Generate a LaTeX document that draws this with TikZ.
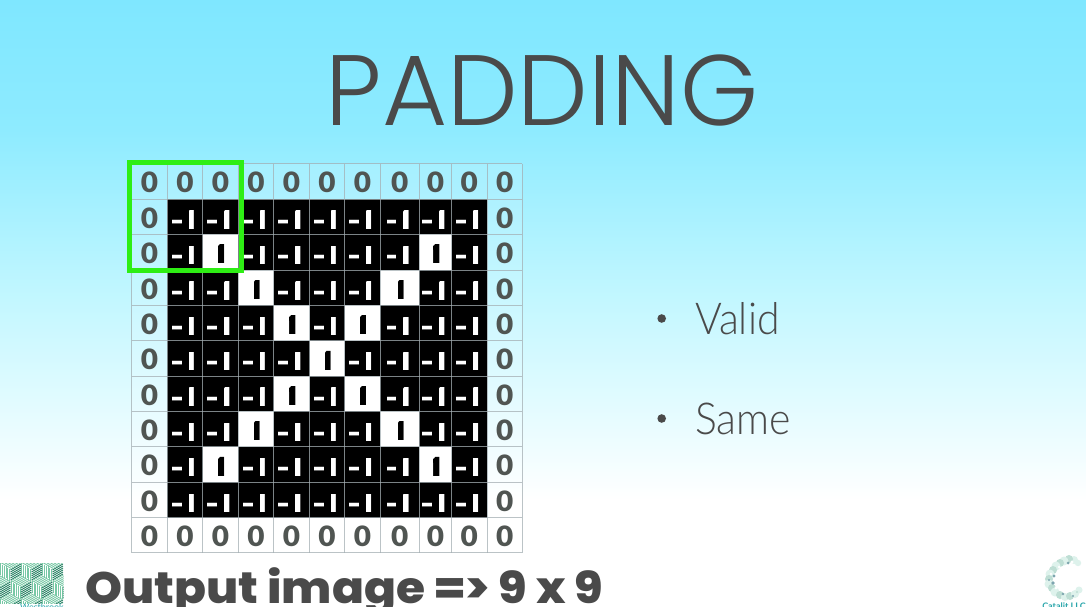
\documentclass[tikz,border=0pt]{standalone}
\usepackage{fontspec}
\setmainfont{Lato}
\newfontfamily\titlefont{Poppins Light}
\newfontfamily\lightfont[FakeStretch=0.93]{Lato Light}
\newfontfamily\heavyfont[FakeStretch=1.07]{Poppins ExtraBold}
\newfontfamily\zerofont[FakeStretch=1.06]{Lato Black}
\newfontfamily\cellfont[FakeStretch=1.65]{TeX Gyre Heros Bold}
\definecolor{ink}{HTML}{4A4A4A}
\definecolor{zeroink}{HTML}{505552}
\definecolor{skytop}{RGB}{127,231,255}
\definecolor{skyupper}{RGB}{142,235,255}
\definecolor{skymid}{RGB}{195,247,255}
\definecolor{framegreen}{RGB}{46,238,20}
\definecolor{gridgrey}{RGB}{165,175,180}
\definecolor{logogreen}{RGB}{40,130,100}
\definecolor{logopale}{RGB}{120,200,165}
\definecolor{logoteal}{RGB}{40,165,170}
\definecolor{blobpale}{RGB}{222,242,236}
\definecolor{blobmid}{RGB}{190,222,212}
\definecolor{blobdark}{RGB}{125,165,175}
\pgfdeclareverticalshading{slidebg}{100bp}{color(0bp)=(white); color(33.8bp)=(white); color(50.3bp)=(skymid); color(64.3bp)=(skyupper); color(75bp)=(skytop); color(100bp)=(skytop)}
\tikzset{
  x=1pt,y=-1pt,
  zerotext/.style={anchor=base,text=zeroink,inner sep=0pt,font=\zerofont\fontsize{28}{28}\selectfont},
  celltext/.style={anchor=base,inner sep=0pt,font=\cellfont\fontsize{27}{27}\selectfont},
  gridline/.style={gridgrey,line width=0.9pt,opacity=.75},
  greenframe/.style={framegreen,line width=5.3pt,line join=miter},
  bullettext/.style={anchor=base west,inner sep=0pt,text=ink,font=\lightfont\fontsize{44}{44}\selectfont},
  bulletdot/.style={fill=ink,draw=none,circle,minimum size=8.6pt,inner sep=0pt},
  hatchdark/.style={logogreen,line width=.9pt},
  hatchpale/.style={logopale,line width=.9pt},
}
\begin{document}
\begin{tikzpicture}
\useasboundingbox (0,0) rectangle (1086,607);
\shade[shading=slidebg] (0,0) rectangle (1086,607);
\def\Xs{{131.7,167.3,202.7,238.3,273.7,309.5,344.5,380.3,419.3,451.7,487,522.3}}
\def\Ys{{163.5,199,234.3,270,305.3,340.7,376,411.3,446.7,482.3,517.7,552.7}}
% title
\node[anchor=base,inner sep=0pt,text=ink] (title) at (542,125)
  {\titlefont\fontsize{100}{100}\selectfont PADDING};
% matrix
\fill[white,opacity=.12] (131.7,163.5) rectangle (522.3,552.7);
\fill[black] (167.3,199) rectangle (487,517.7);
\foreach \r in {0,...,10}{
 \foreach \c in {0,...,10}{
  \pgfmathsetmacro\xa{\Xs[\c]}
  \pgfmathsetmacro\xb{\Xs[\c+1]}
  \pgfmathsetmacro\ya{\Ys[\r]}
  \pgfmathsetmacro\yb{\Ys[\r+1]}
  \pgfmathsetmacro\cx{(\xa+\xb)/2}
  \pgfmathtruncatemacro\pad{(\r==0)||(\r==10)||(\c==0)||(\c==10)?1:0}
  \pgfmathtruncatemacro\lit{(abs(\c-5)==abs(\r-5))&&(abs(\c-5)<=3)?1:0}
  \ifnum\pad=1
    \node[zerotext] (c\r-\c) at (\cx,{\ya+29.2}) {0};
  \else
    \ifnum\lit=1
      \fill[white] (\xa,\ya) rectangle (\xb,\yb);
      \begin{scope}
        \clip ({\cx-1.8},{\ya+10}) rectangle ({\cx+3.5},{\ya+29.4});
        \node[celltext,text=black] (c\r-\c) at ({\cx-.62},{\ya+29.4}) {1};
      \end{scope}
    \else
      \begin{scope}
        \clip ({\cx-13.4},{\ya+18}) rectangle ({\cx-4},{\ya+27})
              ({\cx+3.3},{\ya+11}) rectangle ({\cx+8.9},{\ya+30});
        \node[celltext,text=white] (c\r-\c) at ({\cx+.37},{\ya+30}) {-\kern-6.64pt 1};
      \end{scope}
    \fi
  \fi
 }
}
\foreach \i in {0,...,11}{
  \pgfmathsetmacro\xa{\Xs[\i]}
  \pgfmathsetmacro\ya{\Ys[\i]}
  \draw[gridline] (\xa,163.5) -- (\xa,552.7);
  \draw[gridline] (131.7,\ya) -- (522.3,\ya);
}
\draw[greenframe] (129.2,162.8) rectangle (241.5,270.5);
% bullets
\node[bulletdot] (dot1) at (661.7,318.5) {};
\node[bulletdot] (dot2) at (661.7,418.5) {};
\node[bullettext] (valid) at (695,334) {Valid};
\node[bullettext] (same) at (695,434) {Same};
% caption
\node[anchor=base west,inner sep=0pt,text=ink] (caption) at (85,603)
  {\heavyfont\fontsize{44}{44}\selectfont Output image => 9 x 9};
% left logo: hatched cubes
\begin{scope}
\clip (0,563) rectangle (63.5,603.5);
\fill[white] (0,563) rectangle (63.5,603.5);
\def\ca{10.5}\def\cb{6}\def\ch{12}
\foreach \hx/\hy in {10.5/569,31.5/569,52.5/569,0/587,21/587,42/587,63/587,10.5/605,31.5/605,52.5/605,0/551,21/551,42/551,63/551}{
  \foreach \t in {0.08,0.25,0.42,0.58,0.75,0.92}{
    \draw[hatchpale] ({\hx-\ca+\ca*\t},{\hy-\cb-\cb*\t}) -- ({\hx+\ca*\t},{\hy-\cb*\t});
    \draw[hatchpale] ({\hx-\ca*\t},{\hy-\cb*\t}) -- ({\hx-\ca*\t},{\hy-\cb*\t+\ch});
    \draw[hatchdark] (\hx,{\hy+\ch*\t}) -- ({\hx+\ca},{\hy-\cb+\ch*\t});
  }
}
\end{scope}
\node[anchor=base west,inner sep=0pt,text=logoteal] (lefttag) at (20,610)
  {\fontsize{9}{9}\selectfont Westbrook};
% right logo: C of clusters
\foreach \px/\py/\sz/\col in {
 1078/563/3.2/blobpale,1074/560/4/blobpale,1069/559/4/blobmid,1064/561/4.5/blobpale,
 1060/563/4/blobmid,1056/566/4.5/blobpale,1053/570/4/blobmid,1050/574/4.5/blobpale,
 1049/579/4/blobmid,1049/584/4.5/blobpale,1052/588/4/blobmid,1055/592/4.5/blobpale,
 1060/595/4/blobmid,1065/597/4/blobpale,1070/596/4/blobmid,1075/594/4/blobpale,
 1079/590/3.5/blobpale,1068/563/1.5/blobdark,1059/567/1.5/white,1054/576/1.6/blobdark,
 1053/583/1.9/blobdark,1056/588/1.6/white,1063/594/1.4/blobdark,1072/562/1.6/white,
 1073/596/1.2/blobdark,1051/574/1.3/white,1049/580/1.2/blobdark,1077/592/1.2/blobmid}{
  \fill[\col] (\px,\py) circle (\sz pt);
}
\node[anchor=base,inner sep=0pt,text=logoteal] (righttag) at (1064,609)
  {\fontsize{9}{9}\selectfont\bfseries Catalit LLC};
\end{tikzpicture}
\end{document}
